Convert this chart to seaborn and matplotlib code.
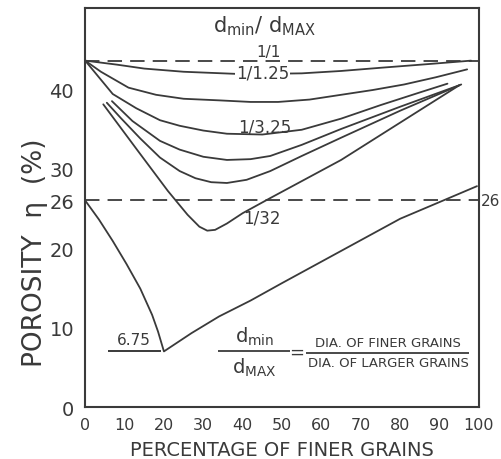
#Imports and config
import pandas as pd
import matplotlib
matplotlib.use("Agg")
import matplotlib.pyplot as plt
import seaborn as sns

#==========================================================================
#data (percentage of finer grains vs porosity)
#==========================================================================
ratio_1_1 = 43.6          # d_min/d_max = 1/1, constant porosity
level_26 = 26.0

pct_1_125 = [0, 8, 15, 25, 40, 55, 65, 75, 88, 98]
por_1_125 = [43.6, 43.1, 42.6, 42.2, 41.9, 42.0, 42.3, 42.7, 43.2, 43.6]

pct_b = [0, 4, 11, 18, 25, 34, 42, 49, 57, 65, 73, 81, 89, 97]
por_b = [43.6, 42.2, 40.2, 39.3, 38.8, 38.6, 38.4, 38.4, 38.7, 39.3, 39.9, 40.6, 41.5, 42.5]

pct_3_25 = [0, 3, 7, 13, 19, 24, 30, 36, 45, 55, 65, 75, 85, 92]
por_3_25 = [43.6, 41.8, 39.4, 37.6, 36.1, 35.4, 34.8, 34.4, 34.3, 34.9, 36.3, 38.0, 39.6, 40.7]

pct_d = [6.8, 12, 19, 24, 30, 36, 42, 47, 55, 65, 80, 95]
por_d = [38.5, 36.0, 33.5, 32.4, 31.5, 31.1, 31.2, 31.6, 33.0, 35.0, 37.8, 40.5]

pct_e = [5.5, 9, 14, 19, 24, 28, 32, 36, 41, 47, 55, 65, 80, 95.5]
por_e = [38.3, 36.4, 33.8, 31.4, 29.7, 28.8, 28.3, 28.2, 28.6, 29.7, 31.6, 33.9, 37.3, 40.6]

pct_1_32 = [4.6, 13, 21, 26, 29, 31, 33, 36, 40, 47, 65, 80, 95]
por_1_32 = [38.1, 32.5, 27.2, 24.2, 22.7, 22.2, 22.3, 23.1, 24.4, 26.3, 31.1, 35.8, 40.5]

pct_low = [0, 3.5, 7, 10.5, 14, 17, 18.5, 20, 27, 34, 42, 50, 60, 70, 80, 90, 99.5]
por_low = [26.0, 23.6, 20.9, 18.0, 14.9, 11.6, 9.5, 7.0, 9.3, 11.4, 13.4, 15.6, 18.3, 21.0, 23.7, 25.8, 27.8]

min_porosity = 7.0        # marked "6.75"

x_ticks = [0, 10, 20, 30, 40, 50, 60, 70, 80, 90, 100]
y_ticks = [0, 10, 20, 26, 30, 40]

#==========================================================================
#plot
#==========================================================================
sns.set_style("white")
plt.rcParams['font.family'] = ['DejaVu Sans']
ink = '#3a3a3a'

fig = plt.figure(figsize=(5.01, 4.60), dpi=100)
ax = fig.add_axes([0.170, 0.113, 0.786, 0.867])

curves = [(pct_1_125, por_1_125), (pct_b, por_b), (pct_3_25, por_3_25),
          (pct_d, por_d), (pct_e, por_e), (pct_1_32, por_1_32), (pct_low, por_low)]
for xs, ys in curves:
    df = pd.DataFrame({'pct': xs, 'por': ys})
    sns.lineplot(data=df, x='pct', y='por', sort=False, color=ink, linewidth=1.3, ax=ax)

# dashed reference levels
for lvl in (ratio_1_1, level_26):
    ax.axhline(lvl, color=ink, linewidth=1.3, dashes=(8, 4.5))

# 6.75 marker
ax.hlines(min_porosity, 5.8, 19.3, color=ink, linewidth=1.4)
ax.text(12.3, min_porosity + 0.6, '6.75', ha='center', va='bottom', fontsize=11, color=ink)

# curve labels
ax.text(46.5, ratio_1_1 + 0.25, '1/1', ha='center', va='bottom', fontsize=11, color=ink)
ax.text(45.0, 42.1, '1/1.25', ha='center', va='center', fontsize=12, color=ink,
        bbox=dict(facecolor='white', edgecolor='none', pad=0.5))
ax.text(45.6, 35.3, '1/3.25', ha='center', va='center', fontsize=12, color=ink)
ax.text(45.0, 23.8, '1/32', ha='center', va='center', fontsize=12, color=ink)
ax.text(45.6, 48.0, r'd$_{\rm min}$/ d$_{\rm MAX}$', ha='center', va='center', fontsize=15, color=ink)
ax.text(100.4, level_26, '26', ha='left', va='center', fontsize=11, color=ink, clip_on=False)

# definition of the ratio
ax.text(43.0, 9.0, r'd$_{\rm min}$', ha='center', va='center', fontsize=14, color=ink)
ax.text(43.0, 5.0, r'd$_{\rm MAX}$', ha='center', va='center', fontsize=14, color=ink)
ax.hlines(7.1, 33.8, 52.0, color=ink, linewidth=1.3)
ax.text(53.8, 7.0, '=', ha='center', va='center', fontsize=13, color=ink)
ax.text(77.0, 8.1, 'DIA. OF FINER GRAINS', ha='center', va='center', fontsize=9.5, color=ink)
ax.text(77.0, 5.6, 'DIA. OF LARGER GRAINS', ha='center', va='center', fontsize=9.5, color=ink)
ax.hlines(6.85, 56.0, 97.5, color=ink, linewidth=1.3)

ax.set_xlim(0, 99.7)
ax.set_ylim(0, 50.2)
ax.set_xticks(x_ticks)
ax.set_yticks(y_ticks)
ax.set_xticklabels([str(v) for v in x_ticks], fontsize=11.5, color=ink)
ax.set_yticklabels([str(v) for v in y_ticks], fontsize=14, color=ink)
ax.tick_params(axis='x', direction='in', length=7, width=1.3, color=ink, pad=7)
ax.tick_params(axis='y', direction='inout', length=8, width=1.3, color=ink, pad=4)
for v, t in zip(x_ticks, ax.xaxis.get_major_ticks()):
    if v in (0, 100):
        t.tick1line.set_visible(False)
for v, t in zip(y_ticks, ax.yaxis.get_major_ticks()):
    if v in (0, 26):
        t.tick1line.set_visible(False)
for s in ax.spines.values():
    s.set_color(ink)
    s.set_linewidth(1.5)

ax.set_xlabel('PERCENTAGE OF FINER GRAINS', fontsize=14, color=ink, labelpad=6)
ax.set_ylabel('')
fig.text(0.07, 0.45, 'POROSITY  η  (%)', rotation=90, ha='center', va='center',
         fontsize=19, color=ink)

plt.savefig('out.png', dpi=100)
